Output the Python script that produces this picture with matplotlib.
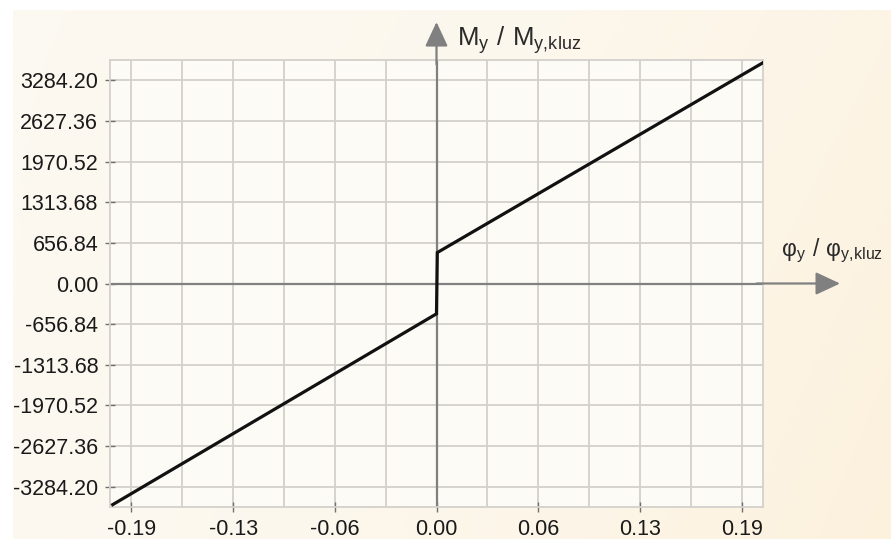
import numpy as np
import matplotlib.pyplot as plt
from matplotlib.colors import LinearSegmentedColormap

plt.rcParams['font.family'] = ['Liberation Sans', 'DejaVu Sans']
plt.rcParams['mathtext.fontset'] = 'custom'
plt.rcParams['mathtext.rm'] = 'Liberation Sans'

# data
phi_y = [-0.2016, 0.0, 0.0005, 0.2029]
m_y = [-3574.0, -490.0, 500.0, 3563.0]
x_step = 0.19 / 3
y_step = 656.84
x_ticks = [k * x_step for k in range(-3, 4)]
y_ticks = [k * y_step for k in range(-5, 6)]
x_minor = [(k + 0.5) * x_step for k in range(-3, 3)]

fig = plt.figure(figsize=(8.91, 5.39), dpi=100)

# cream background with a light warm gradient, white strip top / left
bg = fig.add_axes([0, 0, 1, 1])
gx = np.linspace(0, 1, 300)
gy = np.linspace(0, 1, 200)
GX, GY = np.meshgrid(gx, gy)
grad = np.clip(0.6 * GX ** 2 + 0.4 * GX * GY, 0, 1)
cmap = LinearSegmentedColormap.from_list('cream', ['#fcf9f1', '#fcf1dd'])
bg.imshow(grad, cmap=cmap, aspect='auto', extent=[0, 1, 0, 1], origin='upper')
bg.axhspan(1 - 10 / 539, 1, color='white', lw=0)
bg.axvspan(0, 13 / 891, color='white', lw=0)
bg.set_xlim(0, 1)
bg.set_ylim(0, 1)
bg.axis('off')

ax = fig.add_axes([110 / 891, 1 - 507 / 539, 653 / 891, 447 / 539])
ax.set_facecolor('#fdfbf5')

ax.set_xticks(x_ticks)
ax.set_xticklabels(['%.2f' % v for v in x_ticks])
ax.set_yticks(y_ticks)
ax.set_yticklabels(['%.2f' % v for v in y_ticks])
ax.set_xticks(x_minor, minor=True)
ax.set_xlim(-0.19 * 1.07, 0.19 * 1.07)
ax.set_ylim(-3284.2 * 1.1, 3284.2 * 1.1)
ax.tick_params(which='minor', length=0)
ax.tick_params(which='major', direction='inout', length=7, width=1, color='#707070',
               labelsize=15.5, labelcolor='#1a1a1a', pad=5)
ax.grid(True, which='both', axis='x', color='#d4d0cc', lw=1.3)
ax.grid(True, which='major', axis='y', color='#d4d0cc', lw=1.3)
ax.set_axisbelow(True)
for s in ax.spines.values():
    s.set_color('#d4d0cc')
    s.set_linewidth(1.3)

# axes through the origin with arrow heads
ax.axhline(0, color='#808080', lw=1.6, zorder=2)
ax.axvline(0, color='#808080', lw=1.6, zorder=2)
arrow = dict(arrowstyle='-|>,head_length=0.75,head_width=0.35', color='#808080',
             lw=1.6, shrinkA=0, shrinkB=0, mutation_scale=20)
ax.annotate('', xy=(0, 1.085), xycoords=ax.get_xaxis_transform(),
            xytext=(0, 0.99), textcoords=ax.get_xaxis_transform(),
            arrowprops=arrow, annotation_clip=False)
ax.annotate('', xy=(1.118, 0), xycoords=ax.get_yaxis_transform(),
            xytext=(0.99, 0), textcoords=ax.get_yaxis_transform(),
            arrowprops=arrow, annotation_clip=False)

ax.text(0.0125, 1.045, r'$\mathregular{M_y\ /\ M_{y{,}kluz}}$', transform=ax.get_xaxis_transform(),
        fontsize=18.5, color='#2a2a2a', va='center', ha='left', clip_on=False)
ax.text(1.028, 0.574, r'$\mathregular{\varphi_y\ /\ \varphi_{y{,}kluz}}$',
        transform=ax.transAxes, fontsize=16.5, color='#2a2a2a', va='center', ha='left', clip_on=False)

ax.plot(phi_y, m_y, color='#111111', lw=2.3, zorder=3, solid_joinstyle='miter')

fig.savefig('out.png', dpi=100)
